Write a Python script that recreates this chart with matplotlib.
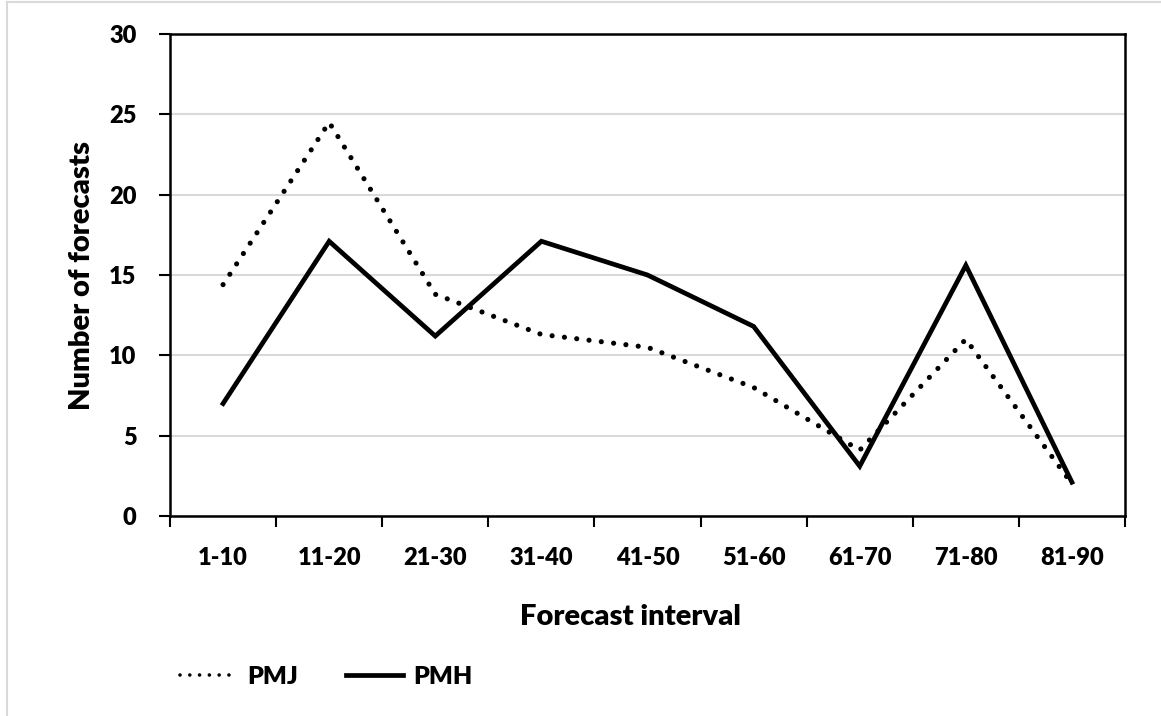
import matplotlib
matplotlib.use("Agg")
import matplotlib.pyplot as plt
import numpy as np
from matplotlib.lines import Line2D

# Data.
intervals = ["1-10", "11-20", "21-30", "31-40", "41-50",
             "51-60", "61-70", "71-80", "81-90"]
pmj = [14.4, 24.5, 13.8, 11.3, 10.5, 8.0, 4.1, 11.0, 2.0]
pmh = [7.0, 17.1, 11.2, 17.1, 15.0, 11.8, 3.1, 15.6, 2.1]

TICK_FS = 17
LABEL_FS = 21
LEGEND_FS = 18
WEIGHT = 800
DOTTED = (0, (0.01, 2.4))

plt.rcParams.update({
    "font.family": "Lato",
    "font.weight": WEIGHT,
    "font.size": TICK_FS,
})

fig = plt.figure(figsize=(11.61, 7.16), dpi=100)
ax = fig.add_axes([170 / 1161, 1 - 516 / 716, (1125 - 170) / 1161, (516 - 34) / 716])

x = np.arange(len(intervals))

# PMJ dotted, PMH solid
ax.plot(x, pmj, color="black", linewidth=3.7, linestyle=DOTTED,
        dash_capstyle="round", zorder=3)
ax.plot(x, pmh, color="black", linewidth=3.4, solid_joinstyle="miter", zorder=4)

ax.set_xlim(-0.5, len(intervals) - 0.5)
ax.set_ylim(0, 30)
ax.set_yticks(np.arange(0, 31, 5))
ax.yaxis.grid(True, color="#d9d9d9", linewidth=1.5)
ax.set_axisbelow(True)

# category boundaries get the tick marks, labels sit in the middle
ax.set_xticks(np.arange(-0.5, len(intervals), 1.0))
ax.set_xticklabels([])
ax.set_xticks(x, minor=True)
ax.set_xticklabels(intervals, minor=True, fontweight=WEIGHT, fontsize=TICK_FS)
ax.tick_params(axis="x", which="major", direction="out", length=8, width=1.5)
ax.tick_params(axis="x", which="minor", length=0, pad=22)
ax.tick_params(axis="y", direction="out", length=8, width=1.5, pad=16,
               labelsize=TICK_FS)
for lab in ax.get_yticklabels():
    lab.set_fontweight(WEIGHT)

for side in ["left", "bottom", "top", "right"]:
    ax.spines[side].set_linewidth(1.8)
    ax.spines[side].set_color("black")

ax.set_xlabel("Forecast interval", fontweight=WEIGHT, fontsize=LABEL_FS)
ax.xaxis.set_label_coords((630 - 170) / (1125 - 170), -(617 - 516) / (516 - 34))
ax.xaxis.label.set_va("center")
ax.set_ylabel("Number of forecasts", fontweight=WEIGHT, fontsize=LABEL_FS)
ax.yaxis.set_label_coords(-(170 - 82) / (1125 - 170), 0.5)
ax.yaxis.label.set_va("center")

handles = [
    Line2D([], [], color="black", linewidth=2.6, linestyle=(0, (0.01, 2.7)),
           dash_capstyle="round"),
    Line2D([], [], color="black", linewidth=3.4),
]
fig.legend(handles, ["PMJ", "PMH"], loc="center", ncol=2, frameon=False,
           bbox_to_anchor=(326 / 1161, 1 - 677 / 716),
           handlelength=2.3, handletextpad=0.4, columnspacing=1.9,
           prop={"weight": WEIGHT, "size": LEGEND_FS})

# light chart-area border
fig.add_artist(Line2D([7 / 1161, 1.0], [1 - 2 / 716, 1 - 2 / 716],
                      color="#d9d9d9", linewidth=1.5))
fig.add_artist(Line2D([7 / 1161, 7 / 1161], [0.0, 1 - 2 / 716],
                      color="#d9d9d9", linewidth=1.5))

fig.savefig("out.png", dpi=100)
